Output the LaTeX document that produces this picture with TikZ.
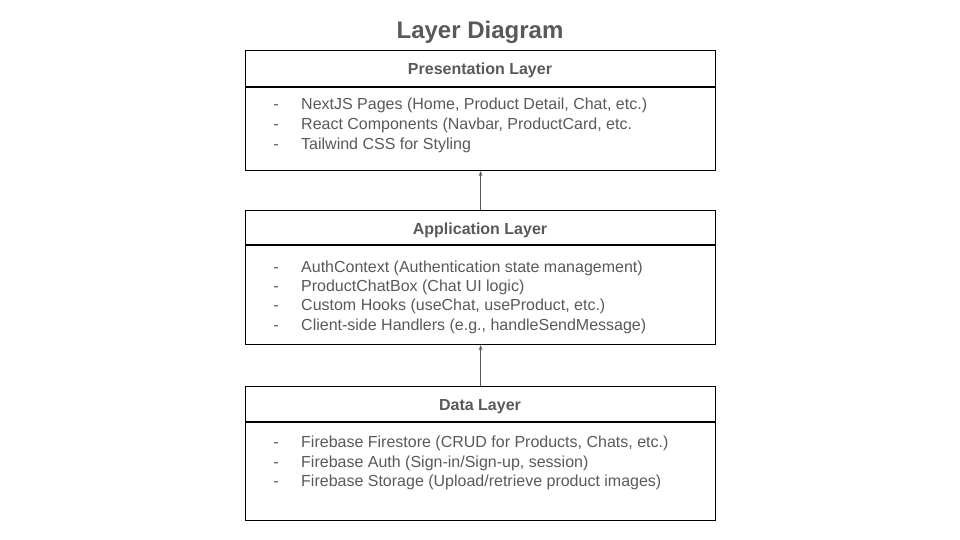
\documentclass[tikz,border=0pt]{standalone}
\usepackage{fontspec}
\setmainfont{Liberation Sans}
\usetikzlibrary{arrows.meta}
\definecolor{txt}{HTML}{595959}
\begin{document}
\begin{tikzpicture}[x=1pt,y=-1pt,
  layerbox/.style={draw=black,line width=1.2pt,minimum width=470pt,inner sep=0pt,anchor=north west},
  head/.style={font=\fontsize{16}{18}\selectfont\bfseries,text=txt,anchor=base},
  item/.style={font=\fontsize{16}{18}\selectfont,text=txt,anchor=base west,inner sep=0pt},
  dashmark/.style={font=\fontsize{16}{18}\selectfont,text=txt,anchor=base,inner sep=0pt},
  conn/.style={draw=txt,line width=0.9pt,-{Stealth[length=5pt,width=4pt]}}]
\useasboundingbox (0,0) rectangle (960,540);
\node[font=\fontsize{24}{28}\selectfont\bfseries,text=txt,anchor=base] (title) at (480,39) {Layer Diagram};

% Presentation
\node[layerbox,minimum height=120pt] (pres) at (245,50) {};
\draw[line width=1.2pt] (245,87) coordinate (p1) -- (715,87) coordinate (p2);
\node[head] (presh) at (480,75) {Presentation Layer};
\node[dashmark] (pd1) at (276,110) {-};
\node[item] (pi1) at (301,110) {NextJS Pages (Home, Product Detail, Chat, etc.)};
\node[dashmark] (pd2) at (276,130) {-};
\node[item] (pi2) at (301,130) {React Components (Navbar, ProductCard, etc.};
\node[dashmark] (pd3) at (276,150) {-};
\node[item] (pi3) at (301,150) {Tailwind CSS for Styling};

% Application
\node[layerbox,minimum height=134pt] (app) at (245,210) {};
\draw[line width=1.2pt] (245,245) coordinate (a1) -- (715,245) coordinate (a2);
\node[head] (apph) at (480,234) {Application Layer};
\node[dashmark] (ad1) at (276,272) {-};
\node[item] (ai1) at (301,272) {AuthContext (Authentication state management)};
\node[dashmark] (ad2) at (276,291) {-};
\node[item] (ai2) at (301,291) {ProductChatBox (Chat UI logic)};
\node[dashmark] (ad3) at (276,310) {-};
\node[item] (ai3) at (301,310) {Custom Hooks (useChat, useProduct, etc.)};
\node[dashmark] (ad4) at (276,330) {-};
\node[item] (ai4) at (301,330) {Client-side Handlers (e.g., handleSendMessage)};

% Data
\node[layerbox,minimum height=134pt] (data) at (245,386) {};
\draw[line width=1.2pt] (245,422) coordinate (d1) -- (715,422) coordinate (d2);
\node[head] (datah) at (480,410) {Data Layer};
\node[dashmark] (dd1) at (276,447) {-};
\node[item] (di1) at (301,447) {Firebase Firestore (CRUD for Products, Chats, etc.)};
\node[dashmark] (dd2) at (276,467) {-};
\node[item] (di2) at (301,467) {Firebase Auth (Sign-in/Sign-up, session)};
\node[dashmark] (dd3) at (276,486) {-};
\node[item] (di3) at (301,486) {Firebase Storage (Upload/retrieve product images)};

% connectors
\draw[conn] (data.north) -- (app.south);
\draw[conn] (app.north) -- (pres.south);
\end{tikzpicture}
\end{document}
